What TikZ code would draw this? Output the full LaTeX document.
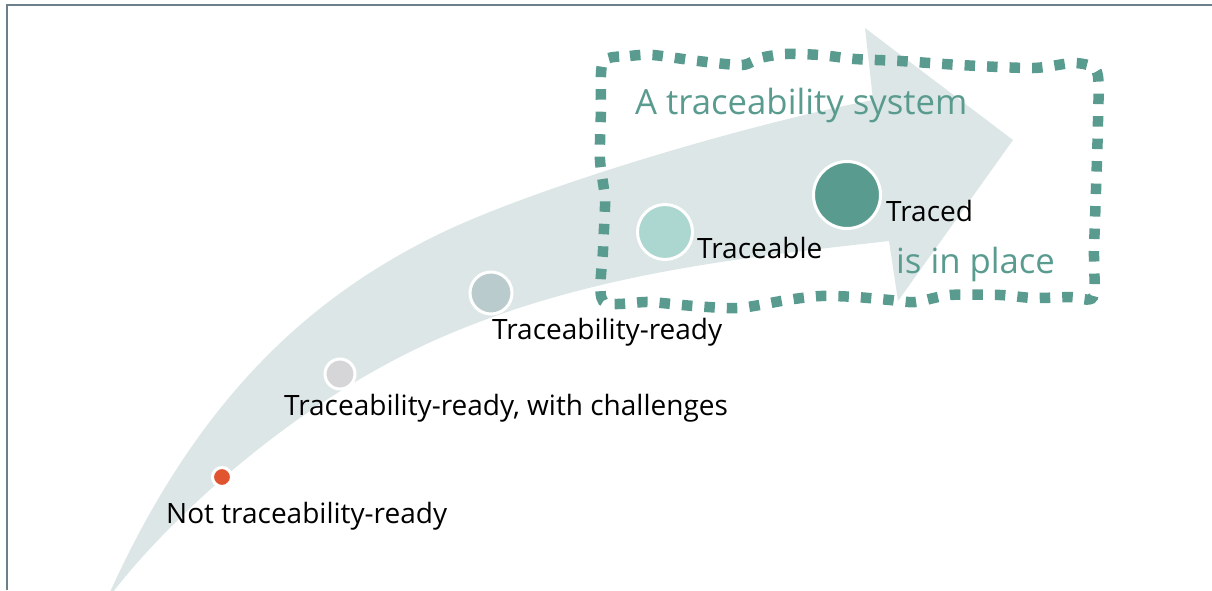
\documentclass[tikz,border=0pt]{standalone}
\usepackage{fontspec}
\setmainfont{Open Sans}
\definecolor{bandc}{HTML}{DDE6E6}
\definecolor{tealc}{HTML}{5A9B8F}
\definecolor{redc}{HTML}{E0552F}
\definecolor{grayc}{HTML}{D6D5D8}
\definecolor{bluegrayc}{HTML}{B9CBCD}
\definecolor{lighttealc}{HTML}{ACD6D0}
\definecolor{framec}{HTML}{6E7F8C}
\begin{document}
\begin{tikzpicture}[x=1pt,y=-1pt,
  stage/.style={circle, draw=white, line width=3pt, inner sep=0pt},
  lbl/.style={anchor=base west, inner sep=0pt, text=black, font=\fontsize{28}{31}\selectfont},
  biglbl/.style={anchor=base west, inner sep=0pt, text=tealc, font=\fontsize{34.7}{40}\selectfont},
  dashbox/.style={draw=tealc, line width=10.5pt, dash pattern=on 10.5pt off 12pt}
]
\useasboundingbox (0,0) rectangle (1212,590);
% frame lines
\coordinate (fTL) at (7,5);
\coordinate (fTR) at (1212,5);
\coordinate (fBL) at (7,590);
\draw[framec, line width=1.6pt] (fBL) -- (fTL) -- (fTR);
% curved arrow band
\coordinate (bStart) at (110,592);
\coordinate (bMidU) at (433,237);
\coordinate (bJoinU) at (873,100);
\coordinate (hTop) at (865,28);
\coordinate (hTip) at (1013,140);
\coordinate (hBot) at (898,301);
\coordinate (bJoinL) at (889,241);
\coordinate (bMidL) at (433,341);
\coordinate (bEnd) at (113,592);
\fill[bandc] (bStart)
  .. controls (200,394) and (313,297) .. (bMidU)
  .. controls (533,187) and (753,123) .. (bJoinU)
  -- (hTop) -- (hTip) -- (hBot) -- (bJoinL)
  .. controls (739,258) and (583,274) .. (bMidL)
  .. controls (283,409) and (163,527) .. (bEnd)
  -- cycle;
% dashed wavy frame
\draw[dashbox] plot[smooth cycle, tension=0.45] coordinates {
  (603,62) (630,56) (653,55) (698,61) (742,65) (760,58) (785,54) (820,55) (855,59) (900,61) (960,65) (1033,68) (1075,63) (1097,72)
  (1098,120) (1096,190) (1094,250) (1093,297)
  (1070,297) (1033,298) (1000,295) (950,295) (915,302) (890,300) (856,297) (821,296) (787,300) (739,308) (694,306) (649,302) (603,301)
  (603,250) (605,200) (600,160) (601,110)};
% stages
\node[stage, fill=redc, minimum size=19pt] (s1) at (222,477) {};
\node[stage, fill=grayc, minimum size=30pt] (s2) at (340,374) {};
\node[stage, fill=bluegrayc, minimum size=42pt] (s3) at (491,293) {};
\node[stage, fill=lighttealc, minimum size=55pt] (s4) at (665,232) {};
\node[stage, fill=tealc, minimum size=67pt] (s5) at (847,195) {};
% labels
\node[lbl] (l1) at (166,523) {Not traceability-ready};
\node[lbl] (l2) at (284,415) {Traceability-ready, with challenges};
\node[lbl] (l3) at (492,339) {Traceability-ready};
\node[lbl] (l4) at (697,258) {Traceable};
\node[lbl] (l5) at (886,221) {Traced};
\node[biglbl] (t1) at (635,114) {A traceability system};
\node[biglbl] (t2) at (896,273) {is in place};
\end{tikzpicture}
\end{document}
